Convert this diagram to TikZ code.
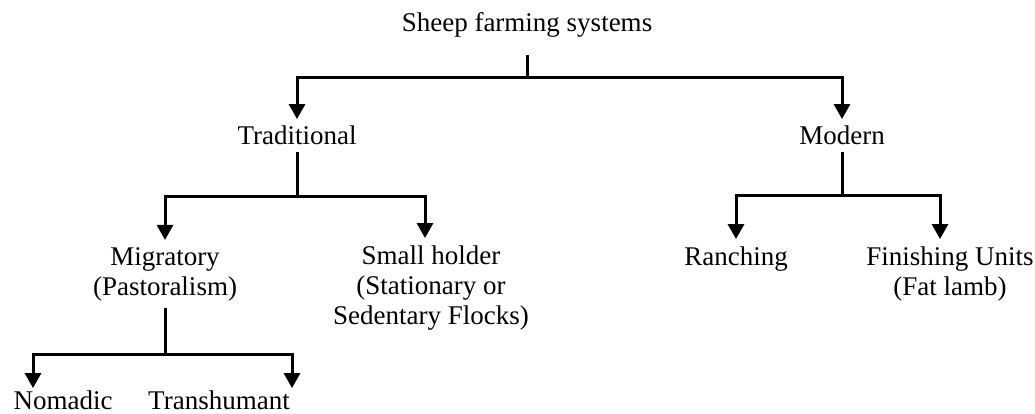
\documentclass[tikz,border=0pt]{standalone}
\usepackage{fontspec}
\setmainfont{Liberation Serif}
\usetikzlibrary{arrows.meta}
\begin{document}
\begin{tikzpicture}[x=1pt,y=-1pt,
  lbl/.style={font=\fontsize{27}{30}\selectfont, align=center, anchor=base,
              inner xsep=2pt, inner ysep=7pt},
  leaf/.style={lbl, inner ysep=2pt},
  link/.style={line width=3pt},
  arr/.style={link, -{Triangle[width=16pt,length=15pt]}}]
\useasboundingbox (0,0) rectangle (1035,414);

% labels (a multi-line label sits on the baseline of its last line)
\node[lbl]  (root)  at (527,32)  {Sheep farming systems};
\node[lbl]  (trad)  at (297,145) {Traditional};
\node[lbl]  (mod)   at (842,145) {Modern};
\node[lbl]  (mig)   at (165,295) {Migratory\\(Pastoralism)};
\node[lbl]  (small) at (431,324) {Small holder\\(Stationary or\\Sedentary Flocks)};
\node[lbl]  (ranch) at (736,265) {Ranching};
\node[lbl]  (fin)   at (950,295) {Finishing Units\\(Fat lamb)};
\node[leaf] (nom)   at (63,409)  {Nomadic};
\node[leaf] (tra)   at (219,409) {Transhumant};

% top level
\coordinate (j0) at (527,78);
\draw[link, shorten <=10pt] (root.south) -- (j0);
\draw[arr] (j0) -| (trad.north);
\draw[arr] (j0) -| (mod.north);

% traditional branch
\coordinate (j1) at (297,196);
\coordinate (s1) at (425,196);
\draw[link] (trad.south) -- (j1);
\draw[arr] (j1) -| (mig.north);
\draw[arr] (j1) -- (s1) -- (s1 |- small.north);

% modern branch
\coordinate (j2) at (842,195);
\coordinate (f1) at (940,195);
\draw[link] (mod.south) -- (j2);
\draw[arr] (j2) -| (ranch.north);
\draw[arr] (j2) -- (f1) -- (f1 |- fin.north);

% migratory branch
\coordinate (j3) at (165,354);
\coordinate (k1) at (33,354);
\coordinate (k2) at (292,354);
\draw[link] (mig.south) -- (j3);
\draw[arr] (j3) -- (k1) -- (k1 |- nom.north);
\draw[arr] (j3) -- (k2) -- (k2 |- tra.north);
\end{tikzpicture}
\end{document}
